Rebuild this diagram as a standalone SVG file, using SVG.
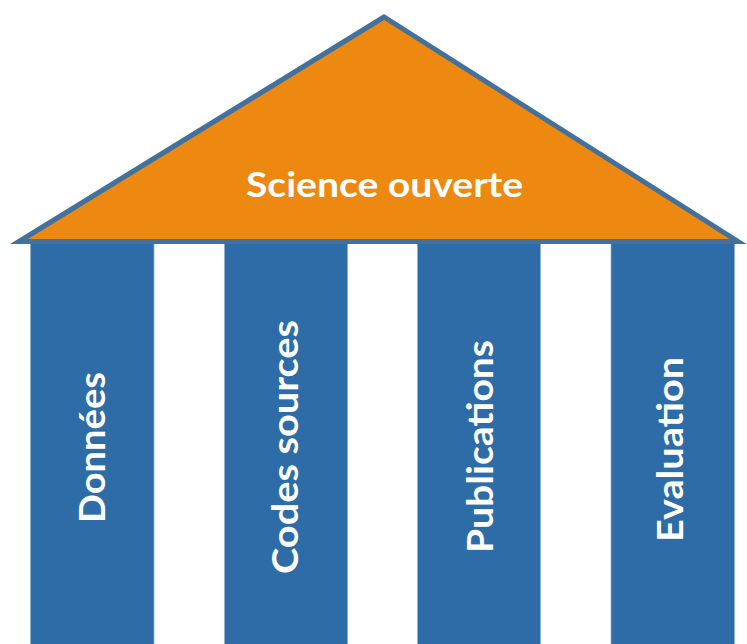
<svg xmlns="http://www.w3.org/2000/svg" width="747" height="644" viewBox="0 0 747 644">
  <style>
    .col { fill: #2D6CA6; stroke: #8FAFD0; stroke-width: 0.8; }
    .roof { fill: #ED8811; stroke: #41719C; stroke-width: 5; stroke-linejoin: miter; stroke-miterlimit: 6; }
    .lbl { font-family: Lato, "Open Sans", "Liberation Sans", sans-serif; font-weight: bold; fill: #FFFFFF; text-anchor: middle; }
    .col-lbl { font-size: 37px; }
    .roof-lbl { font-size: 35px; }
  </style>
  <rect width="747" height="644" fill="#FFFFFF"/>
  <g id="col-donnees">
    <rect class="col" x="30.5" y="243" width="123.5" height="402"/>
    <text class="lbl col-lbl" transform="translate(105,447.5) rotate(-90)" textLength="151" lengthAdjust="spacingAndGlyphs">Données</text>
  </g>
  <g id="col-codes">
    <rect class="col" x="224.5" y="243" width="123" height="402"/>
    <text class="lbl col-lbl" transform="translate(298,447) rotate(-90)" textLength="254" lengthAdjust="spacingAndGlyphs">Codes sources</text>
  </g>
  <g id="col-publications">
    <rect class="col" x="417.5" y="243" width="123" height="402"/>
    <text class="lbl col-lbl" transform="translate(493,446.5) rotate(-90)" textLength="213" lengthAdjust="spacingAndGlyphs">Publications</text>
  </g>
  <g id="col-evaluation">
    <rect class="col" x="611" y="243" width="123.5" height="402"/>
    <text class="lbl col-lbl" transform="translate(683,449.5) rotate(-90)" textLength="185" lengthAdjust="spacingAndGlyphs">Evaluation</text>
  </g>
  <g id="roof">
    <polygon class="roof" points="19,241.5 384,17 738,241.5"/>
    <text class="lbl roof-lbl" x="384.5" y="197" textLength="277" lengthAdjust="spacingAndGlyphs">Science ouverte</text>
  </g>
  <g id="connectors"/>
</svg>
